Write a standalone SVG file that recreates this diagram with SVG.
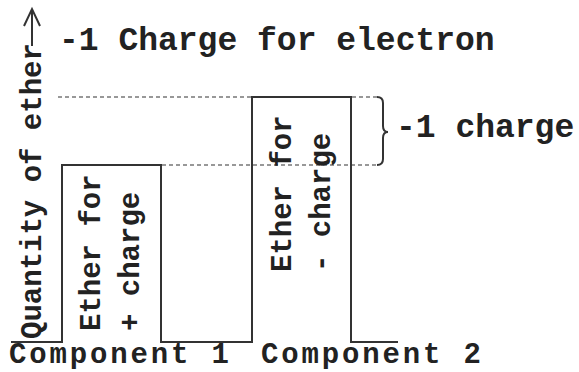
<svg xmlns="http://www.w3.org/2000/svg" width="579" height="372" viewBox="0 0 579 372">
<style>
text{font-family:"Liberation Mono","Courier New",monospace;font-weight:bold;fill:#222}
.big{font-size:33px}
.bot{font-size:29px}
.mid{font-size:29px}
.solid{fill:none;stroke:#333;stroke-width:2}
.dash{fill:none;stroke:#777;stroke-width:1.5;stroke-dasharray:4 3}
</style>
<rect width="579" height="372" fill="#fff"/>
<g id="title"><text class="big" x="59" y="50">-1 Charge for electron</text></g>
<g id="axis">
<text class="mid" transform="translate(41,339) rotate(-90)">Quantity of ether</text>
<path class="solid" d="M32,46 V10 M24,26 L32,9 L40,26"/>
</g>
<g id="guides">
<path class="dash" d="M58,97 H378 M162,165 H378"/>
</g>
<g id="connectors">
<path class="solid" d="M11,342 H62 V165 H161 V342 H252 V97 H351 V342 H398"/>
</g>
<g id="box1">
<text class="mid" transform="translate(100,331) rotate(-90)">Ether for</text>
<text class="mid" transform="translate(139,331) rotate(-90)">+ charge</text>
</g>
<g id="box2">
<text class="mid" transform="translate(291,272) rotate(-90)">Ether for</text>
<text class="mid" transform="translate(330,272) rotate(-90)">- charge</text>
</g>
<g id="brace">
<path class="solid" stroke-width="1.5" d="M377,97 Q383,97 383,103 V126 Q383,132 388,132 Q383,132 383,138 V159 Q383,165 377,165"/>
<text class="big" x="396" y="137">-1 charge</text>
</g>
<g id="components">
<text class="bot" x="9" y="363" textLength="220" lengthAdjust="spacing">Component 1</text>
<text class="bot" x="261" y="363" textLength="220" lengthAdjust="spacing">Component 2</text>
</g>
</svg>
